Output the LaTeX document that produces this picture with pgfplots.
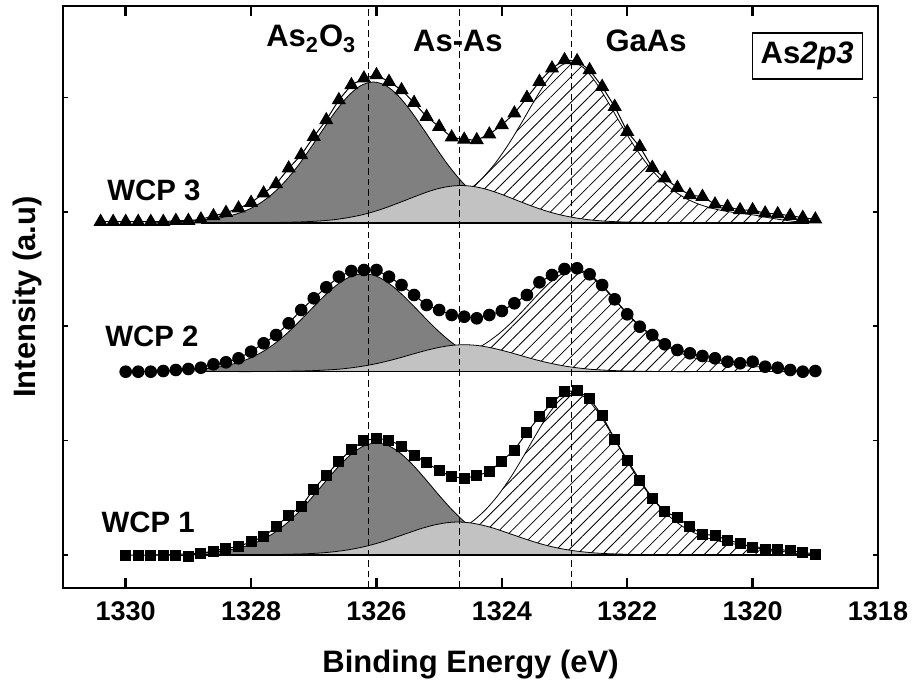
\documentclass[border=0pt]{standalone}
\usepackage{fontspec}
\setmainfont{Liberation Sans}
\usepackage{pgfplots}
\pgfplotsset{compat=1.18}
\usetikzlibrary{patterns.meta}
\definecolor{dk}{gray}{0.5}
\definecolor{lt}{gray}{0.76}
\tikzset{hatch/.style={pattern={Lines[angle=45,distance=4.5pt,line width=0.4pt]},pattern color=black}}
\begin{document}
\begin{tikzpicture}
\useasboundingbox (-31.5pt,-49pt) rectangle (425.5pt,294pt);
\begin{axis}[
  at={(0pt,0pt)}, anchor=south west,
  scale only axis, width=407.5pt, height=291pt,
  xmin=1318, xmax=1331, x dir=reverse,
  ymin=0, ymax=582,
  xtick={1318,1320,1322,1324,1326,1328,1330},
  xticklabels={1318,1320,1322,1324,1326,1328,1330},
  ytick=\empty,
  tick align=inside,
  major tick length=5pt,
  xtick style={line width=1.2pt, black},
  axis line style={line width=1.3pt},
  xticklabel style={font=\fontsize{13.5}{16}\selectfont\bfseries, yshift=-3.5pt},
  xlabel={Binding Energy (eV)},
  ylabel={Intensity (a.u)},
  xlabel style={font=\fontsize{15.5}{18}\selectfont\bfseries, at={(axis description cs:0.5,-0.132)}, anchor=center},
  ylabel style={font=\fontsize{15.5}{18}\selectfont\bfseries, at={(axis description cs:-0.044,0.5)}, anchor=center},
]
% ---------------- WCP 1 components (baseline 33)
\addplot[hatch, draw=black, line width=0.4pt, smooth] coordinates {
(1326.65,33) (1326.45,34.3) (1326.25,35.9) (1326.05,37.9) (1325.85,40.3) (1325.65,42.0) (1325.45,43.6) (1325.25,45.7) (1325.05,48.7) (1324.85,52.9) (1324.65,59.0) (1324.45,67.5) (1324.25,78.9) (1324.05,93.6) (1323.85,111.5) (1323.65,132.2) (1323.45,154.0) (1323.25,174.4) (1323.05,189.4) (1322.85,195) (1322.65,189.4) (1322.45,174.4) (1322.25,154.0) (1322.05,132.2) (1321.85,111.5) (1321.65,93.6) (1321.45,78.9) (1321.25,67.5) (1321.05,59.0) (1320.85,52.9) (1320.65,48.7) (1320.45,45.7) (1320.25,43.6) (1320.05,42.0) (1319.85,40.3) (1319.65,37.9) (1319.45,35.9) (1319.25,34.3) (1319.05,33)};
\addplot[fill=dk, draw=black, line width=0.4pt, smooth] coordinates {
(1329.6,33) (1329.4,33.3) (1329.2,33.8) (1329.0,34.3) (1328.8,35.0) (1328.6,36.0) (1328.4,37.5) (1328.2,39.9) (1328.0,43.6) (1327.8,49.0) (1327.6,56.5) (1327.4,66.4) (1327.2,78.6) (1327.0,92.6) (1326.8,107.5) (1326.6,121.8) (1326.4,133.9) (1326.2,142.1) (1326.0,145) (1325.8,142.1) (1325.6,133.9) (1325.4,121.8) (1325.2,107.5) (1325.0,92.6) (1324.8,78.6) (1324.6,66.4) (1324.4,56.5) (1324.2,49.0) (1324.0,43.6) (1323.8,39.9) (1323.6,37.5) (1323.4,36.0) (1323.2,35.0) (1323.0,34.3) (1322.8,33.8) (1322.6,33.3) (1322.4,33)};
\addplot[fill=lt, draw=black, line width=0.4pt, smooth] coordinates {
(1328.3,33) (1328.1,33.1) (1327.9,33.2) (1327.7,33.4) (1327.5,33.6) (1327.3,33.9) (1327.1,34.3) (1326.9,35.0) (1326.7,36.1) (1326.5,37.7) (1326.3,39.9) (1326.1,42.8) (1325.9,46.4) (1325.7,50.6) (1325.5,54.9) (1325.3,59.2) (1325.1,62.7) (1324.9,65.1) (1324.7,66) (1324.5,65.1) (1324.3,62.7) (1324.1,59.2) (1323.9,54.9) (1323.7,50.6) (1323.5,46.4) (1323.3,42.8) (1323.1,39.9) (1322.9,37.7) (1322.7,36.1) (1322.5,35.0) (1322.3,34.3) (1322.1,33.9) (1321.9,33.6) (1321.7,33.4) (1321.5,33.2) (1321.3,33.1) (1321.1,33)};
\addplot[black, line width=0.7pt] coordinates {(1328.9,33) (1319.05,33)};
% ---------------- WCP 2 components (baseline 216.3)
\addplot[hatch, draw=black, line width=0.4pt, smooth] coordinates {
(1326.65,216.3) (1326.45,217.1) (1326.25,218.1) (1326.05,219.3) (1325.85,220.8) (1325.65,221.9) (1325.45,222.9) (1325.25,224.2) (1325.05,226.1) (1324.85,228.7) (1324.65,232.5) (1324.45,237.8) (1324.25,244.9) (1324.05,254.1) (1323.85,265.3) (1323.65,278.2) (1323.45,291.8) (1323.25,304.5) (1323.05,313.8) (1322.85,317.3) (1322.65,313.8) (1322.45,304.5) (1322.25,291.8) (1322.05,278.2) (1321.85,265.3) (1321.65,254.1) (1321.45,244.9) (1321.25,237.8) (1321.05,232.5) (1320.85,228.7) (1320.65,226.1) (1320.45,224.2) (1320.25,222.9) (1320.05,221.9) (1319.85,220.8) (1319.65,219.3) (1319.45,218.1) (1319.25,217.1) (1319.05,216.3)};
\addplot[fill=dk, draw=black, line width=0.4pt, smooth] coordinates {
(1329.8,216.3) (1329.6,216.6) (1329.4,217.0) (1329.2,217.5) (1329.0,218.1) (1328.8,218.9) (1328.6,220.2) (1328.4,222.3) (1328.2,225.6) (1328.0,230.3) (1327.8,236.9) (1327.6,245.5) (1327.4,256.2) (1327.2,268.5) (1327.0,281.5) (1326.8,294.0) (1326.6,304.6) (1326.4,311.8) (1326.2,314.3) (1326.0,311.8) (1325.8,304.6) (1325.6,294.0) (1325.4,281.5) (1325.2,268.5) (1325.0,256.2) (1324.8,245.5) (1324.6,236.9) (1324.4,230.3) (1324.2,225.6) (1324.0,222.3) (1323.8,220.2) (1323.6,218.9) (1323.4,218.1) (1323.2,217.5) (1323.0,217.0) (1322.8,216.6) (1322.6,216.3)};
\addplot[fill=lt, draw=black, line width=0.4pt, smooth] coordinates {
(1328.2,216.3) (1328.0,216.4) (1327.8,216.5) (1327.6,216.6) (1327.4,216.8) (1327.2,217.0) (1327.0,217.4) (1326.8,218.0) (1326.6,218.8) (1326.4,220.2) (1326.2,222.0) (1326.0,224.4) (1325.8,227.3) (1325.6,230.7) (1325.4,234.3) (1325.2,237.7) (1325.0,240.6) (1324.8,242.6) (1324.6,243.3) (1324.4,242.6) (1324.2,240.6) (1324.0,237.7) (1323.8,234.3) (1323.6,230.7) (1323.4,227.3) (1323.2,224.4) (1323.0,222.0) (1322.8,220.2) (1322.6,218.8) (1322.4,218.0) (1322.2,217.4) (1322.0,217.0) (1321.8,216.8) (1321.6,216.6) (1321.4,216.5) (1321.2,216.4) (1321.0,216.3)};
\addplot[black, line width=0.7pt] coordinates {(1328.8,216.3) (1319.05,216.3)};
% ---------------- WCP 3 components (baseline 365)
\addplot[hatch, draw=black, line width=0.4pt, smooth] coordinates {
(1326.7,365) (1326.5,366.3) (1326.3,367.9) (1326.1,369.8) (1325.9,372.2) (1325.7,374.0) (1325.5,375.5) (1325.3,377.6) (1325.1,380.6) (1324.9,384.8) (1324.7,390.8) (1324.5,399.2) (1324.3,410.6) (1324.1,425.2) (1323.9,443.1) (1323.7,463.6) (1323.5,485.3) (1323.3,505.5) (1323.1,520.4) (1322.9,526) (1322.7,520.4) (1322.5,505.5) (1322.3,485.3) (1322.1,463.6) (1321.9,443.1) (1321.7,425.2) (1321.5,410.6) (1321.3,399.2) (1321.1,390.8) (1320.9,384.8) (1320.7,380.6) (1320.5,377.6) (1320.3,375.5) (1320.1,374.0) (1319.9,372.2) (1319.7,369.8) (1319.5,367.9) (1319.3,366.3) (1319.1,365)};
\addplot[fill=dk, draw=black, line width=0.4pt, smooth] coordinates {
(1329.65,365) (1329.45,365.4) (1329.25,366.0) (1329.05,366.7) (1328.85,367.5) (1328.65,368.8) (1328.45,370.7) (1328.25,373.7) (1328.05,378.3) (1327.85,385.1) (1327.65,394.6) (1327.45,407.1) (1327.25,422.4) (1327.05,440.1) (1326.85,458.8) (1326.65,476.8) (1326.45,492.1) (1326.25,502.4) (1326.05,506) (1325.85,502.4) (1325.65,492.1) (1325.45,476.8) (1325.25,458.8) (1325.05,440.1) (1324.85,422.4) (1324.65,407.1) (1324.45,394.6) (1324.25,385.1) (1324.05,378.3) (1323.85,373.7) (1323.65,370.7) (1323.45,368.8) (1323.25,367.5) (1323.05,366.7) (1322.85,366.0) (1322.65,365.4) (1322.45,365)};
\addplot[fill=lt, draw=black, line width=0.4pt, smooth] coordinates {
(1328.25,365) (1328.05,365.1) (1327.85,365.3) (1327.65,365.5) (1327.45,365.7) (1327.25,366.0) (1327.05,366.5) (1326.85,367.3) (1326.65,368.5) (1326.45,370.4) (1326.25,372.9) (1326.05,376.2) (1325.85,380.3) (1325.65,385.0) (1325.45,389.9) (1325.25,394.7) (1325.05,398.8) (1324.85,401.5) (1324.65,402.5) (1324.45,401.5) (1324.25,398.8) (1324.05,394.7) (1323.85,389.9) (1323.65,385.0) (1323.45,380.3) (1323.25,376.2) (1323.05,372.9) (1322.85,370.4) (1322.65,368.5) (1322.45,367.3) (1322.25,366.5) (1322.05,366.0) (1321.85,365.7) (1321.65,365.5) (1321.45,365.3) (1321.25,365.1) (1321.05,365)};
\addplot[black, line width=0.7pt] coordinates {(1328.8,365) (1319.1,365)};
% ---------------- dashed reference lines
\addplot[black, line width=0.5pt, dash pattern=on 3.3pt off 2pt] coordinates {(1326.12,0) (1326.12,582)};
\addplot[black, line width=0.5pt, dash pattern=on 3.3pt off 2pt] coordinates {(1324.67,0) (1324.67,582)};
\addplot[black, line width=0.5pt, dash pattern=on 3.3pt off 2pt] coordinates {(1322.89,0) (1322.89,582)};
% ---------------- data
\addplot[black, line width=0.5pt, mark=square*, mark size=2.5pt, mark options={solid}] coordinates {
(1330.0,33) (1329.8,33) (1329.6,33) (1329.4,33) (1329.2,33) (1329.0,32) (1328.8,34.7) (1328.6,37) (1328.4,39.7) (1328.2,41.3) (1328.0,46.3) (1327.8,51.3) (1327.6,61.3) (1327.4,73) (1327.2,81.3) (1327.0,99) (1326.8,113) (1326.6,126.3) (1326.4,138.7) (1326.2,147.3) (1326.0,149.7) (1325.8,148) (1325.6,142) (1325.4,133) (1325.2,125.3) (1325.0,117.3) (1324.8,111.3) (1324.6,109.7) (1324.4,112.3) (1324.2,116.3) (1324.0,127) (1323.8,138) (1323.6,155.7) (1323.4,171.3) (1323.2,185.3) (1323.0,196.3) (1322.8,197.3) (1322.6,189.7) (1322.4,172.3) (1322.2,149) (1322.0,128) (1321.8,108) (1321.6,89.7) (1321.4,76.3) (1321.2,70.7) (1321.0,61.3) (1320.8,54) (1320.6,52.3) (1320.4,48) (1320.2,44.7) (1320.0,40.7) (1319.8,38.7) (1319.6,38.7) (1319.4,37.3) (1319.2,35.7) (1319.0,34)};
\addplot[black, line width=0.5pt, mark=*, mark size=2.9pt, mark options={solid}] coordinates {
(1330.0,216.3) (1329.8,216.3) (1329.6,216.3) (1329.4,217) (1329.2,218) (1329.0,219) (1328.8,220.3) (1328.6,223.7) (1328.4,225.7) (1328.2,229.7) (1328.0,236.3) (1327.8,244.7) (1327.6,253) (1327.4,264.7) (1327.2,278) (1327.0,289.7) (1326.8,300.7) (1326.6,311.3) (1326.4,317) (1326.2,318) (1326.0,318) (1325.8,311.3) (1325.6,303) (1325.4,293) (1325.2,283) (1325.0,278) (1324.8,273) (1324.6,271.3) (1324.4,269.7) (1324.2,273) (1324.0,277) (1323.8,284.7) (1323.6,293) (1323.4,305.7) (1323.2,313) (1323.0,319) (1322.8,319.7) (1322.6,313.7) (1322.4,303) (1322.2,288.7) (1322.0,273.7) (1321.8,261.3) (1321.6,253) (1321.4,243.7) (1321.2,238) (1321.0,234.7) (1320.8,232) (1320.6,229.7) (1320.4,226.3) (1320.2,224.7) (1320.0,226.3) (1319.8,221.3) (1319.6,220.3) (1319.4,218) (1319.2,216.3) (1319.0,217)};
\addplot[black, line width=0.5pt, mark=triangle*, mark size=3.6pt, mark options={solid}] coordinates {
(1330.4,366.3) (1330.2,366.3) (1330.0,366.3) (1329.8,366.3) (1329.6,366.3) (1329.4,366.3) (1329.2,367.3) (1329.0,367.3) (1328.8,368.7) (1328.6,372) (1328.4,375.3) (1328.2,379.7) (1328.0,385.3) (1327.8,394.7) (1327.6,404) (1327.4,419.7) (1327.2,433) (1327.0,451.3) (1326.8,468) (1326.6,488) (1326.4,503) (1326.2,509.7) (1326.0,513) (1325.8,506.3) (1325.6,498) (1325.4,485.3) (1325.2,471.3) (1325.0,461.3) (1324.8,450.7) (1324.6,448.5) (1324.4,448) (1324.2,453.7) (1324.0,463) (1323.8,474.7) (1323.6,490.3) (1323.4,506.3) (1323.2,519.7) (1323.0,528) (1322.8,527) (1322.6,518) (1322.4,501.3) (1322.2,481.3) (1322.0,456.3) (1321.8,441.3) (1321.6,420.3) (1321.4,409.7) (1321.2,400.3) (1321.0,393) (1320.8,391.3) (1320.6,383.7) (1320.4,381.3) (1320.2,378) (1320.0,378) (1319.8,374.7) (1319.6,374) (1319.4,372.3) (1319.2,370.3) (1319.0,368.7)};
% ---------------- labels
\node[font=\fontsize{15.5}{18}\selectfont\bfseries, anchor=base] at (axis cs:1327.04,541) {As\textsubscript{2}O\textsubscript{3}};
\node[font=\fontsize{15.5}{18}\selectfont\bfseries, anchor=base] at (axis cs:1324.7,536) {As-As};
\node[font=\fontsize{15.5}{18}\selectfont\bfseries, anchor=base] at (axis cs:1321.7,536) {GaAs};
\node[draw, line width=0.6pt, fill=white, font=\fontsize{15.5}{18}\selectfont\bfseries, minimum width=55pt, minimum height=23pt, inner sep=0pt] at (axis cs:1319.13,532) {As\textit{2p3}};
\node[font=\fontsize{14.7}{17}\selectfont\bfseries, anchor=base] at (axis cs:1329.55,388) {WCP 3};
\node[font=\fontsize{14.7}{17}\selectfont\bfseries, anchor=base] at (axis cs:1329.58,242) {WCP 2};
\node[font=\fontsize{14.7}{17}\selectfont\bfseries, anchor=base] at (axis cs:1329.64,56) {WCP 1};
\end{axis}
\begin{axis}[
  at={(0pt,0pt)}, anchor=south west,
  scale only axis, width=407.5pt, height=291pt,
  xmin=1318, xmax=1331, x dir=reverse,
  ymin=0, ymax=582,
  xtick=\empty,
  ytick={33,147.4,261.8,376.2,490.6},
  yticklabels={},
  tick align=inside,
  major tick length=2.5pt,
  ytick style={line width=0.8pt, black},
  axis line style={draw=none},
]
\end{axis}
\end{tikzpicture}
\end{document}
